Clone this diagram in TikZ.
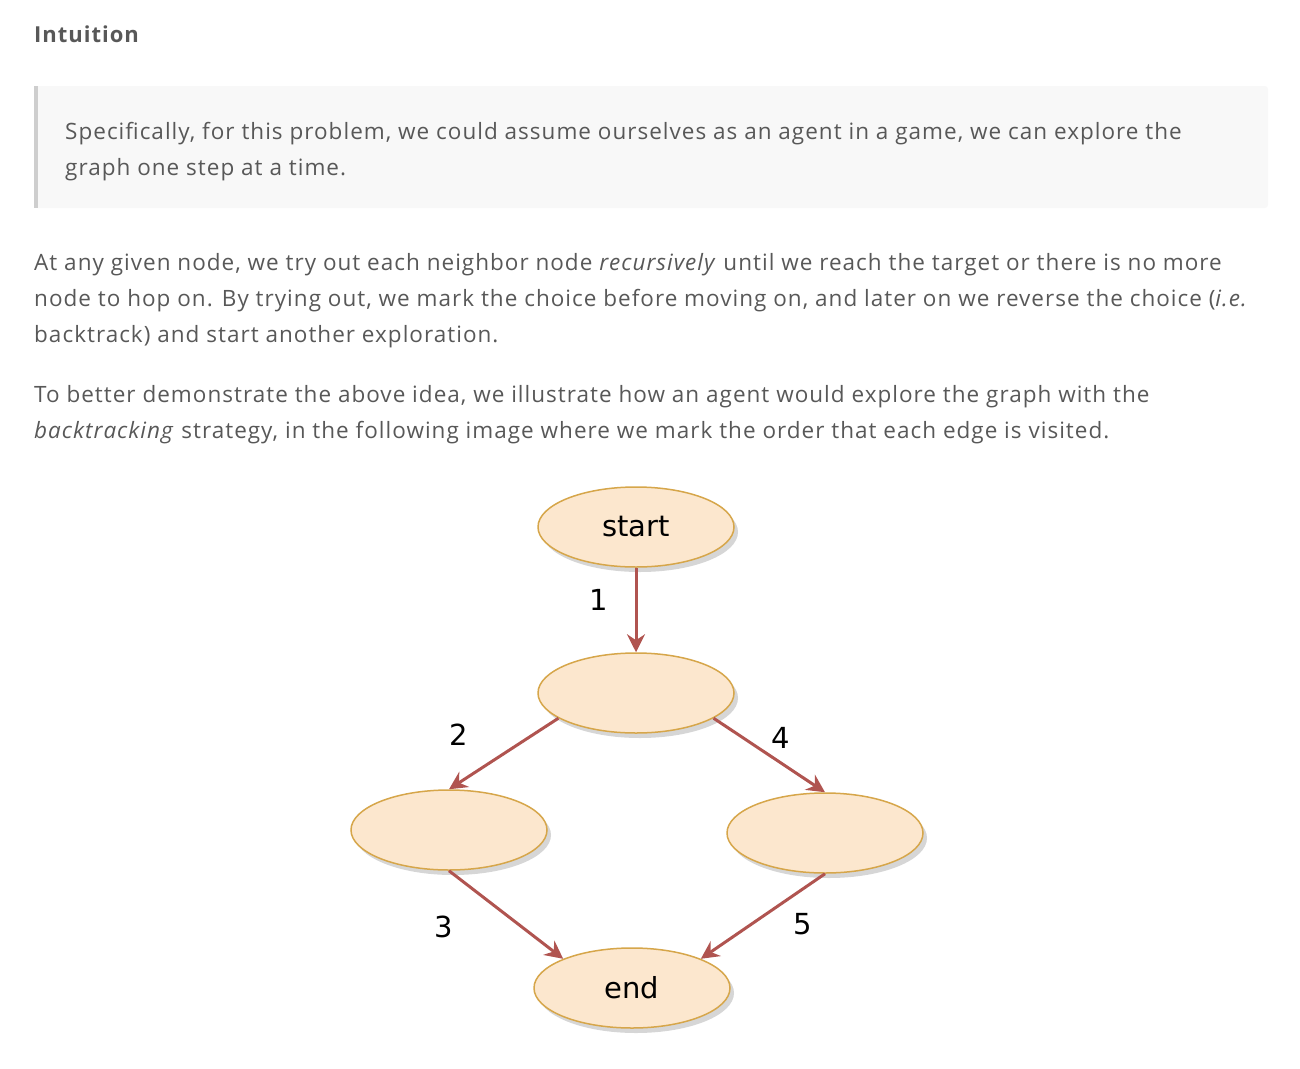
\documentclass[tikz,border=0pt]{standalone}
\usepackage{fontspec}
\setmainfont[LetterSpace=4.5]{Open Sans}
\newfontfamily\graphfont{DejaVu Sans}
\usetikzlibrary{arrows.meta, positioning, shapes.geometric, shadows}
\definecolor{bodytext}{RGB}{88,88,88}
\definecolor{quotebg}{RGB}{248,248,248}
\definecolor{quotebar}{RGB}{206,206,206}
\definecolor{nodefill}{RGB}{252,231,206}
\definecolor{nodeline}{RGB}{214,166,74}
\definecolor{edgecol}{RGB}{176,84,80}

\begin{document}
\begin{tikzpicture}[x=1pt, y=-1pt,
    line/.style={anchor=base west, inner sep=0pt, text=bodytext, font=\fontsize{22.5}{26}\selectfont},
    state/.style={ellipse, draw=nodeline, line width=1.5pt, fill=nodefill, minimum width=196pt, minimum height=80pt,
        drop shadow={shadow xshift=4pt, shadow yshift=-5pt, fill=black!32}, font=\graphfont\fontsize{29}{32}\selectfont},
    edge/.style={-{Stealth[length=18pt, width=18pt, inset=6pt]}, draw=edgecol, line width=3pt},
    order/.style={font=\graphfont\fontsize{29}{32}\selectfont}
]
\useasboundingbox (0,0) rectangle (1300,1068);

% Heading and quote
\node[line, font=\bfseries\fontsize{22}{26}\selectfont] (title) at (34,42) {Intuition};
\fill[quotebg, rounded corners=3pt] (34,86) rectangle (1268,208);
\fill[quotebar] (34,86) rectangle (38,208);
\node[line] (q1) at (65,139) {Specifically, for this problem, we could assume ourselves as an agent in a game, we can explore the};
\node[line] (q2) at (65,175) {graph one step at a time.};

% Paragraphs
\node[line] (p1a) at (34,270) {At any given node, we try out each neighbor node \textit{recursively} until we reach the target or there is no more};
\node[line] (p1b) at (34,306) {node to hop on. By trying out, we mark the choice before moving on, and later on we reverse the choice (\textit{i.e.}};
\node[line] (p1c) at (34,342) {backtrack) and start another exploration.};
\node[line] (p2a) at (34,402) {To better demonstrate the above idea, we illustrate how an agent would explore the graph with the};
\node[line] (p2b) at (34,438) {\textit{backtracking} strategy, in the following image where we mark the order that each edge is visited.};

% Graph
\node[state] (start) at (636,527) {start};
\node[state] (mid) at (636,693) {};
\node[state] (left) at (449,830) {};
\node[state] (right) at (825,833) {};
\node[state] (end) at (632,988) {end};

\draw[edge] (start) -- (mid);
\draw[edge] (mid.198) -- (left.north);
\draw[edge] (left.south) -- (end.157);
\draw[edge] (mid.-18) -- (right.north);
\draw[edge] (right.south) -- (end.23);

% Visit order
\node[order] (n1) at (599,600) {1};
\node[order] (n2) at (459,735) {2};
\node[order] (n3) at (444,927) {3};
\node[order] (n4) at (781,738) {4};
\node[order] (n5) at (803,924) {5};

\end{tikzpicture}
\end{document}
